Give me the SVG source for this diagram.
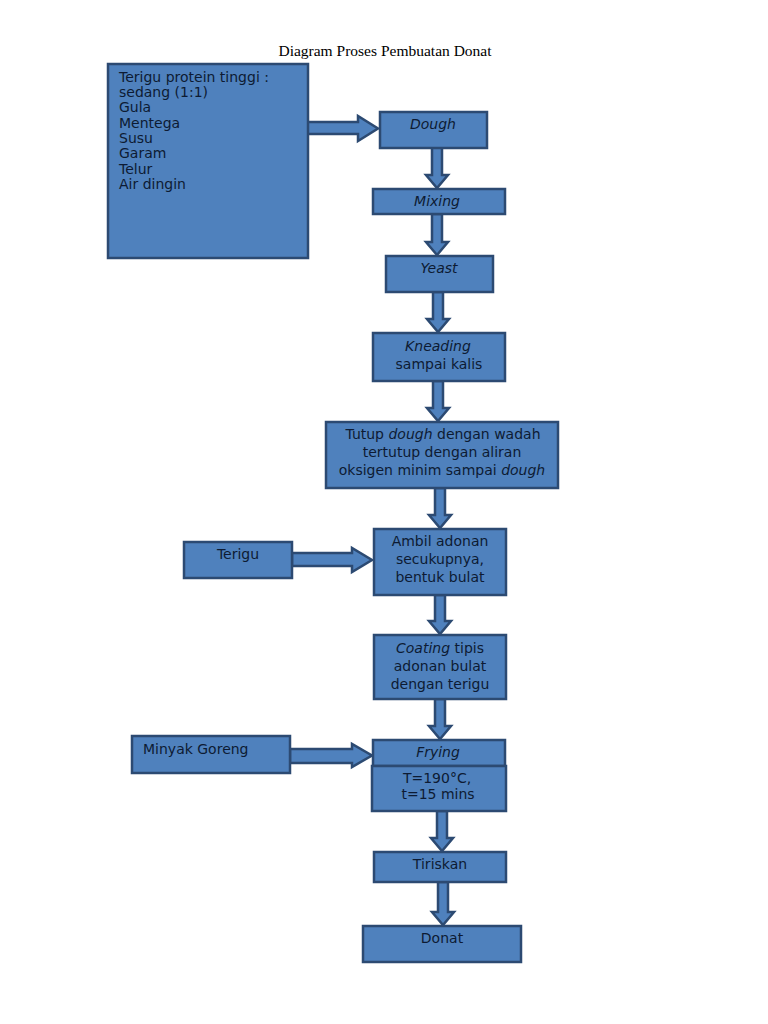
<svg xmlns="http://www.w3.org/2000/svg" width="768" height="1024" viewBox="0 0 768 1024">
<style>
.box{fill:#4f81bd;stroke:#2c4a72;stroke-width:2.5}
.arr{fill:#4f81bd;stroke:#2c4a72;stroke-width:2.5;stroke-linejoin:miter}
.t{font-family:"DejaVu Sans",sans-serif;font-size:14px;fill:#0d1b33}
.c{text-anchor:middle}
.i{font-style:italic}
.title{font-family:"Liberation Serif",serif;font-size:15.5px;fill:#000;text-anchor:middle}
</style>
<rect width="768" height="1024" fill="#fff"/>
<text class="title" x="385" y="56">Diagram Proses Pembuatan Donat</text>
<g id="connectors">
<path class="arr" d="M299,122 H358 V116 L378,128.5 L358,141 V134 H299 Z"/>
<path class="arr" d="M292,553 H352 V548 L372,560 L352,572 V566 H292 Z"/>
<path class="arr" d="M290,749 H352 V744 L372,755.5 L352,767 V763 H290 Z"/>
<path class="arr" d="M432,147 H442 V175 H448 L437,188 L426,175 H432 Z"/>
<path class="arr" d="M432,214 H442 V242 H448 L437,255 L426,242 H432 Z"/>
<path class="arr" d="M433,292 H443 V319 H449 L438,332 L427,319 H433 Z"/>
<path class="arr" d="M433,381 H443 V408 H449 L438,421 L427,408 H433 Z"/>
<path class="arr" d="M435,488 H445 V515 H451 L440,528 L429,515 H435 Z"/>
<path class="arr" d="M435,595 H445 V621 H451 L440,634 L429,621 H435 Z"/>
<path class="arr" d="M435,699 H445 V726 H451 L440,739 L429,726 H435 Z"/>
<path class="arr" d="M437,811 H447 V838 H453 L442,851 L431,838 H437 Z"/>
<path class="arr" d="M438,882 H448 V912 H454 L443,925 L432,912 H438 Z"/>
</g>
<g id="ingredients">
<rect class="box" x="108" y="64" width="200" height="194"/>
<text class="t" x="119" y="82">Terigu protein tinggi :</text>
<text class="t" x="119" y="97">sedang (1:1)</text>
<text class="t" x="119" y="112">Gula</text>
<text class="t" x="119" y="128">Mentega</text>
<text class="t" x="119" y="143">Susu</text>
<text class="t" x="119" y="158">Garam</text>
<text class="t" x="119" y="174">Telur</text>
<text class="t" x="119" y="189">Air dingin</text>
</g>
<g id="dough">
<rect class="box" x="380" y="112" width="107" height="36"/>
<text class="t c i" x="433" y="129">Dough</text>
</g>
<g id="mixing">
<rect class="box" x="373" y="189" width="132" height="25"/>
<text class="t c i" x="437" y="206">Mixing</text>
</g>
<g id="yeast">
<rect class="box" x="386" y="256" width="107" height="36"/>
<text class="t c i" x="439" y="273">Yeast</text>
</g>
<g id="kneading">
<rect class="box" x="373" y="333" width="132" height="48"/>
<text class="t c i" x="438" y="351">Kneading</text>
<text class="t c" x="439" y="369">sampai kalis</text>
</g>
<g id="tutup">
<rect class="box" x="326" y="422" width="232" height="66"/>
<text class="t c" x="443" y="439">Tutup <tspan class="i">dough</tspan> dengan wadah</text>
<text class="t c" x="442" y="457">tertutup dengan aliran</text>
<text class="t c" x="442" y="475">oksigen minim sampai <tspan class="i">dough</tspan></text>
</g>
<g id="terigu">
<rect class="box" x="184" y="542" width="108" height="36"/>
<text class="t c" x="238" y="559">Terigu</text>
</g>
<g id="ambil">
<rect class="box" x="374" y="529" width="132" height="66"/>
<text class="t c" x="440" y="546">Ambil adonan</text>
<text class="t c" x="440" y="564">secukupnya,</text>
<text class="t c" x="440" y="582">bentuk bulat</text>
</g>
<g id="coating">
<rect class="box" x="374" y="635" width="132" height="64"/>
<text class="t c" x="440" y="653"><tspan class="i">Coating</tspan> tipis</text>
<text class="t c" x="440" y="671">adonan bulat</text>
<text class="t c" x="440" y="689">dengan terigu</text>
</g>
<g id="minyak">
<rect class="box" x="132" y="736" width="158" height="37"/>
<text class="t" x="143" y="754">Minyak Goreng</text>
</g>
<g id="frying">
<rect class="box" x="373" y="740" width="132" height="26"/>
<text class="t c i" x="438" y="757">Frying</text>
<rect class="box" x="372" y="766" width="134" height="45"/>
<text class="t c" x="437" y="783">T=190°C,</text>
<text class="t c" x="438" y="799">t=15 mins</text>
</g>
<g id="tiriskan">
<rect class="box" x="374" y="852" width="132" height="30"/>
<text class="t c" x="440" y="869">Tiriskan</text>
</g>
<g id="donat">
<rect class="box" x="363" y="926" width="158" height="36"/>
<text class="t c" x="442" y="943">Donat</text>
</g>
</svg>
